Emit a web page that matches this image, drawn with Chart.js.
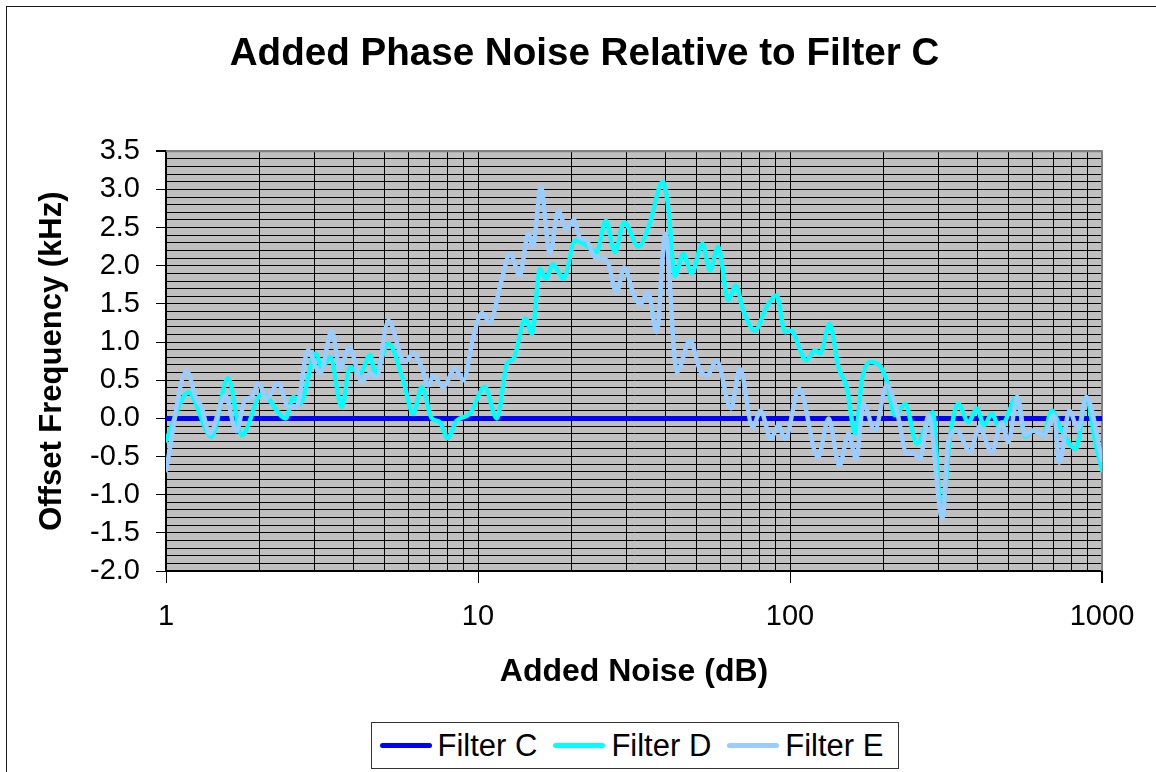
<!DOCTYPE html>
<html>
<head>
<meta charset="utf-8">
<title>Added Phase Noise Relative to Filter C</title>
<script src="https://cdn.jsdelivr.net/npm/chart.js@4.4.1/dist/chart.umd.min.js"></script>
<style>
  html, body { margin: 0; padding: 0; background: #fff; }
  body { width: 1156px; height: 772px; overflow: hidden; position: relative; }
  #frame {
    position: absolute; left: 6px; top: 6px; width: 1200px; height: 820px;
    border: 1.5px solid #1a1a1a; box-sizing: border-box;
  }
  #chart { position: absolute; left: 0; top: 0; }
  #legend {
    position: absolute; left: 371px; top: 722px; width: 528px; height: 47px;
    box-sizing: border-box; border: 1.5px solid #333; background: #fff;
    display: flex; align-items: center; padding-left: 7.5px;
    font: 31px 'Liberation Sans', Arial, sans-serif; color: #000;
  }
  #legend .item { display: flex; align-items: center; margin-right: 16px; white-space: nowrap; }
  #legend .swatch { display: inline-block; width: 52px; height: 5px; border-radius: 3px; margin-right: 6px; }
</style>
</head>
<body>
<div id="frame"></div>
<canvas id="chart" width="1156" height="772"></canvas>
<div id="legend"></div>

<script>
/* Added phase noise of filters D and E, relative to filter C (log x axis). */

const seriesNames = ['Filter C', 'Filter D', 'Filter E'];
const seriesColors = ['#0000FF', '#00FFFF', '#99CCFF'];

// Filter C is the reference, flat at zero.
const cX = [1, 1000];
const cY = [0, 0];

// Filter D (peaks and troughs)
const dX = [1.00, 1.18, 1.40, 1.58, 1.75, 2.03, 2.42, 2.56, 2.69, 3.02,
  3.16, 3.36, 3.66, 3.89, 4.19, 4.51, 4.68, 5.16, 5.76, 6.20,
  6.60, 7.11, 7.55, 8.00, 8.54, 9.43, 10.5, 11.5, 12.4, 13.0,
  14.2, 14.9, 15.8, 16.5, 17.4, 18.8, 20.5, 21.8, 24.0, 25.7,
  27.5, 29.4, 32.7, 35.6, 39.1, 40.7, 42.8, 45.5, 48.4, 52.4,
  55.4, 58.9, 63.4, 67.0, 70.9, 77.2, 84.2, 90.7, 96.4, 100.5,
  113, 120, 125, 134, 143, 152, 162, 170, 181, 194,
  204, 217, 234, 255, 287, 306, 326, 346, 373, 397,
  419, 443, 471, 535, 567, 602, 649, 690, 743, 825,
  891, 950, 1000];
const dY = [-0.29, 0.34, -0.24, 0.53, -0.22, 0.32, 0.00, 0.28, 0.19, 0.85,
  0.67, 0.80, 0.15, 0.67, 0.59, 0.83, 0.59, 0.98, 0.50, 0.06,
  0.41, 0.00, -0.05, -0.26, -0.03, 0.06, 0.41, 0.00, 0.72, 0.78,
  1.31, 1.11, 1.96, 1.83, 2.02, 1.83, 2.33, 2.29, 2.18, 2.59,
  2.18, 2.57, 2.25, 2.57, 3.10, 2.77, 1.87, 2.16, 1.90, 2.29,
  1.94, 2.25, 1.55, 1.74, 1.41, 1.15, 1.46, 1.61, 1.13, 1.15,
  0.76, 0.89, 0.85, 1.24, 0.67, 0.41, -0.20, 0.50, 0.74, 0.69,
  0.50, 0.04, 0.19, -0.33, 0.08, -1.29, -0.24, 0.19, -0.05, 0.13,
  -0.09, 0.06, -0.13, 0.28, -0.24, -0.16, -0.22, 0.10, -0.16, -0.40,
  0.28, -0.29, -0.68];

// Filter E
const eX = [1.00, 1.165, 1.25, 1.30, 1.38, 1.55, 1.68, 1.79, 1.88, 1.98,
  2.10, 2.29, 2.47, 2.62, 2.85, 3.12, 3.40, 3.61, 3.87, 4.24,
  4.51, 4.73, 5.16, 5.83, 6.20, 6.60, 6.93, 7.19, 7.74, 8.44,
  8.97, 9.66, 10.3, 10.9, 11.9, 12.7, 13.6, 14.5, 15.0, 15.9,
  17.0, 18.1, 19.2, 20.3, 21.2, 22.3, 23.7, 25.9, 27.8, 29.4,
  31.5, 33.1, 35.1, 37.4, 39.8, 43.4, 47.8, 51.5, 54.1, 58.2,
  64.7, 69.1, 75.9, 80.5, 86.9, 91.7, 96.4, 107, 123, 133,
  144, 154, 163, 172, 187, 204, 220, 237, 249, 261,
  278, 308, 322, 342, 378, 404, 443, 477, 501, 535,
  567, 602, 649, 702, 730, 786, 838, 891, 1000];
const eY = [-0.68, 0.62, 0.26, 0.15, -0.20, 0.30, -0.17, 0.24, 0.28, 0.46,
  0.26, 0.46, 0.15, 0.15, 0.89, 0.59, 1.15, 0.65, 0.93, 0.48,
  0.59, 0.54, 1.28, 0.74, 0.85, 0.67, 0.43, 0.56, 0.41, 0.65,
  0.50, 1.07, 1.38, 1.26, 1.81, 2.16, 1.87, 2.42, 2.25, 3.03,
  2.16, 2.72, 2.48, 2.60, 2.37, 2.33, 2.11, 2.07, 1.65, 1.98,
  1.63, 1.50, 1.65, 1.13, 2.42, 0.61, 1.02, 0.63, 0.56, 0.76,
  0.13, 0.65, -0.11, 0.10, -0.27, -0.09, -0.27, 0.39, -0.51, 0.00,
  -0.62, -0.20, -0.53, 0.19, -0.16, 0.43, 0.10, -0.46, -0.46, -0.53,
  0.04, -1.31, -0.29, -0.16, -0.44, -0.11, -0.44, -0.05, -0.31, 0.28,
  -0.22, -0.16, -0.22, 0.04, -0.58, 0.10, -0.14, 0.28, -0.55];

// Axis ticks
const xGridValues = [1, 2, 3, 4, 5, 6, 7, 8, 9, 10, 20, 30, 40, 50, 60, 70, 80, 90,
  100, 200, 300, 400, 500, 600, 700, 800, 900, 1000];
const xLabelValues = [1, 10, 100, 1000];
const yMin = -2.0;
const yMax = 3.5;
const yMinorStep = 0.1;

const FONT = "'Liberation Sans', Arial, sans-serif";
Chart.defaults.font.family = FONT;
Chart.defaults.color = '#000';

const toPoints = (xs, ys) => xs.map((x, i) => ({ x, y: ys[i] }));
const isHalfStep = (v) => Math.abs(v * 2 - Math.round(v * 2)) < 1e-6;

// gray plot area + gray top/right border like the spreadsheet original
const plotArea = {
  id: 'plotArea',
  beforeDraw(chart) {
    const { ctx, chartArea: a } = chart;
    ctx.save();
    ctx.fillStyle = '#C0C0C0';
    ctx.fillRect(a.left, a.top, a.right - a.left, a.bottom - a.top);
    ctx.restore();
  },
  beforeDatasetsDraw(chart) {
    const { ctx, chartArea: a } = chart;
    ctx.save();
    ctx.strokeStyle = '#808080';
    ctx.lineWidth = 2;
    ctx.beginPath();
    ctx.moveTo(a.left, a.top);
    ctx.lineTo(a.right, a.top);
    ctx.lineTo(a.right, a.bottom);
    ctx.stroke();
    ctx.restore();
  },
};

const lineSet = (i, xs, ys, width, order) => ({
  label: seriesNames[i],
  data: toPoints(xs, ys),
  borderColor: seriesColors[i],
  backgroundColor: seriesColors[i],
  borderWidth: width,
  borderCapStyle: 'round',
  borderJoinStyle: 'round',
  pointRadius: 0,
  cubicInterpolationMode: 'monotone',
  order,
});

new Chart(document.getElementById('chart'), {
  type: 'line',
  data: {
    datasets: [
      lineSet(0, cX, cY, 5, 3),
      lineSet(1, dX, dY, 4.5, 2),
      lineSet(2, eX, eY, 4.5, 1),
    ],
  },
  options: {
    responsive: false,
    animation: false,
    // left padding + empty right axis keep the title centred like the original
    layout: { padding: { left: 13, right: 0, top: 0, bottom: 0 } },
    plugins: {
      legend: { display: false },
      tooltip: { enabled: false },
      title: {
        display: true,
        text: 'Added Phase Noise Relative to Filter C',
        font: { size: 38.6, weight: 'bold' },
        color: '#000',
        padding: { top: 31, bottom: 74 },
      },
    },
    scales: {
      x: {
        type: 'logarithmic',
        min: 1,
        max: 1000,
        afterBuildTicks: (scale) => {
          scale.ticks = xGridValues.map((v) => ({ value: v }));
        },
        afterFit: (scale) => { scale.height = 201; },
        grid: {
          color: (c) => (c.tick && c.tick.value === 1000 ? '#808080' : '#000'),
          lineWidth: (c) => (c.tick && c.tick.value === 1000 ? 2 : 1),
          tickLength: 12,
          tickColor: (c) => (c.tick && xLabelValues.includes(c.tick.value) ? '#000' : 'rgba(0,0,0,0)'),
        },
        border: { color: '#000', width: 2 },
        ticks: {
          autoSkip: false,
          maxRotation: 0,
          padding: 17,
          font: { size: 29 },
          callback: (v) => (xLabelValues.includes(v) ? String(v) : ''),
        },
        title: {
          display: true,
          text: 'Added Noise (dB)',
          font: { size: 32, weight: 'bold' },
          padding: { top: 0, bottom: 81 },
        },
      },
      y: {
        type: 'linear',
        min: yMin,
        max: yMax,
        afterFit: (scale) => { scale.width = 153; },
        grid: {
          color: (c) => (c.tick && Math.abs(c.tick.value - yMax) < 1e-6 ? '#808080' : '#000'),
          lineWidth: (c) => (c.tick && Math.abs(c.tick.value - yMax) < 1e-6 ? 2 : 1),
          tickLength: 10,
          tickColor: (c) => (c.tick && isHalfStep(c.tick.value) ? '#000' : 'rgba(0,0,0,0)'),
        },
        border: { color: '#000', width: 2 },
        ticks: {
          stepSize: yMinorStep,
          maxTicksLimit: 100,
          autoSkip: false,
          padding: 16,
          font: { size: 29 },
          callback: (v) => (isHalfStep(v) ? Number(v).toFixed(1) : ''),
        },
        title: {
          display: true,
          text: 'Offset Frequency (kHz)',
          font: { size: 31, weight: 'bold' },
          padding: { top: 21, bottom: 0 },
        },
      },
      yRight: {
        type: 'linear',
        position: 'right',
        min: yMin,
        max: yMax,
        afterFit: (scale) => { scale.width = 54; },
        grid: { display: false },
        border: { display: false },
        ticks: { display: false },
      },
    },
  },
  plugins: [plotArea],
});

// legend box below the axis title
document.getElementById('legend').innerHTML = seriesNames.map((name, i) =>
  `<span class="item"><span class="swatch" style="background:${seriesColors[i]}"></span>${name}</span>`
).join('');
</script>
</body>
</html>
